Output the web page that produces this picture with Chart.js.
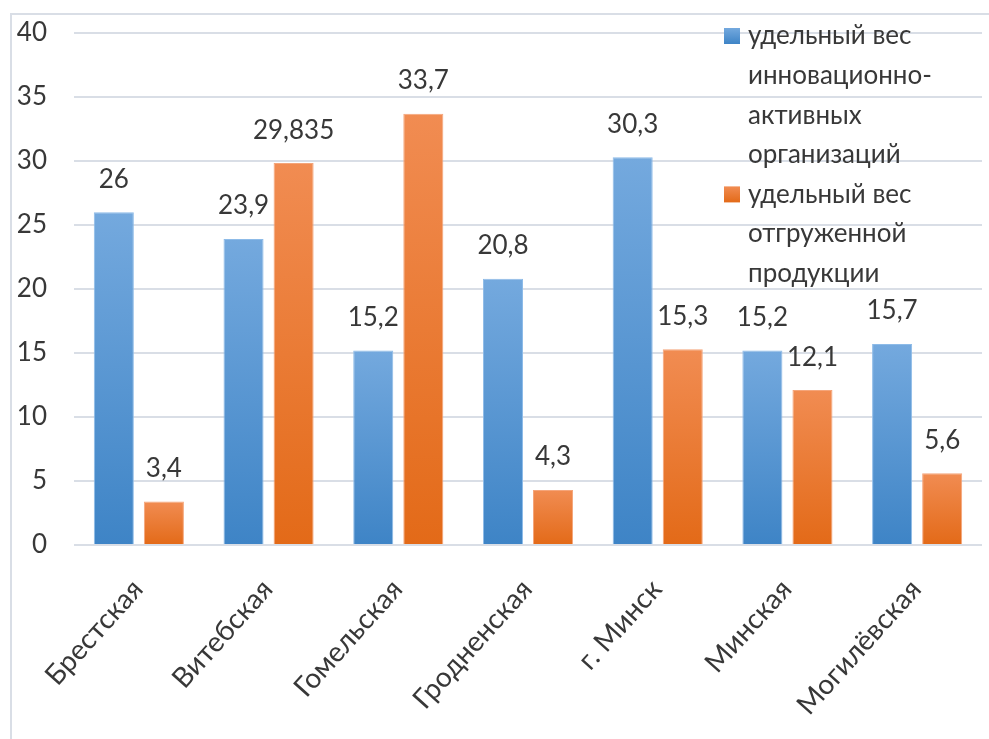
<!DOCTYPE html>
<html><head><meta charset="utf-8">
<script src="https://cdn.jsdelivr.net/npm/chart.js@4/dist/chart.umd.min.js"></script>
<style>html,body{margin:0;padding:0;background:#fff;overflow:hidden}#wrap{width:989px;height:739px;position:relative}</style>
</head><body><div id="wrap"><canvas id="c" width="989" height="739"></canvas></div>
<script>
const categories = ['Брестская', 'Витебская', 'Гомельская', 'Гродненская', 'г. Минск', 'Минская', 'Могилёвская'];
const innovationShare = [26, 23.9, 15.2, 20.8, 30.3, 15.2, 15.7];
const shippedShare = [3.4, 29.835, 33.7, 4.3, 15.3, 12.1, 5.6];
const innovationLabel = ['удельный вес', 'инновационно-', 'активных', 'организаций'];
const shippedLabel = ['удельный вес', 'отгруженной', 'продукции'];
const yMin = 0, yMax = 40, yStep = 5;

const FONT = 'Lato';
const TXT = '#383838';
const BLUE = ['#74a9de', '#3e84c6'];
const ORANGE = ['#f18c52', '#e36a18'];

function gradFill(colors) {
  return (c) => {
    const chart = c.chart, y = chart.scales && chart.scales.y;
    if (!y || c.type !== 'data' || !isFinite(y.getPixelForValue(0))) return colors[1];
    const top = y.getPixelForValue(c.raw), base = y.getPixelForValue(0);
    if (!isFinite(top) || base - top < 1) return colors[1];
    const g = chart.ctx.createLinearGradient(0, top, 0, base);
    g.addColorStop(0, colors[0]);
    g.addColorStop(1, colors[1]);
    return g;
  };
}

const frame = {
  id: 'frame',
  beforeDraw(chart) {
    const ctx = chart.ctx;
    ctx.save();
    ctx.fillStyle = '#fff';
    ctx.fillRect(0, 0, chart.width, chart.height);
    ctx.strokeStyle = '#d9dee6';
    ctx.lineWidth = 2;
    ctx.strokeRect(11, 14, chart.width + 20, chart.height + 20);
    ctx.restore();
  }
};

const valueLabels = {
  id: 'valueLabels',
  afterDatasetsDraw(chart) {
    const ctx = chart.ctx;
    ctx.save();
    ctx.font = '26px ' + FONT;
    ctx.fillStyle = TXT;
    ctx.textAlign = 'center';
    ctx.textBaseline = 'middle';
    chart.data.datasets.forEach((ds, i) => {
      chart.getDatasetMeta(i).data.forEach((bar, j) => {
        ctx.fillText(String(ds.data[j]).replace('.', ','), bar.x, bar.y - 33);
      });
    });
    ctx.restore();
  }
};

const sideLegend = {
  id: 'sideLegend',
  afterDraw(chart) {
    const ctx = chart.ctx;
    ctx.save();
    ctx.font = '26px ' + FONT;
    ctx.fillStyle = TXT;
    ctx.textAlign = 'left';
    ctx.textBaseline = 'middle';
    let y = 36;
    const lh = 39.6;
    chart.data.datasets.forEach((ds) => {
      const g = ctx.createLinearGradient(0, y - 8, 0, y + 8);
      g.addColorStop(0, ds.legendColors[0]);
      g.addColorStop(1, ds.legendColors[1]);
      ctx.fillStyle = g;
      ctx.fillRect(724, y - 8, 16, 16);
      ctx.fillStyle = TXT;
      ds.label.forEach((line) => {
        ctx.fillText(line, 748, y);
        y += lh;
      });
    });
    ctx.restore();
  }
};

new Chart(document.getElementById('c'), {
  type: 'bar',
  data: {
    labels: categories,
    datasets: [
      { label: innovationLabel, data: innovationShare, backgroundColor: gradFill(BLUE),
        borderColor: '#8dbbe8', borderWidth: 1, legendColors: BLUE,
        barPercentage: 0.8, categoryPercentage: 0.772 },
      { label: shippedLabel, data: shippedShare, backgroundColor: gradFill(ORANGE),
        borderColor: '#f5a57a', borderWidth: 1, legendColors: ORANGE,
        barPercentage: 0.8, categoryPercentage: 0.772 }
    ]
  },
  options: {
    responsive: false,
    animation: false,
    devicePixelRatio: 1,
    layout: { padding: { top: 33, right: 7, left: 0, bottom: 0 } },
    plugins: { legend: { display: false }, tooltip: { enabled: false } },
    scales: {
      x: {
        grid: { display: false },
        border: { display: false },
        ticks: { color: TXT, font: { family: FONT, size: 28 }, maxRotation: 48, minRotation: 48, padding: 20, labelOffset: -1 },
        afterFit: (s) => { s.height = 194; s.paddingLeft = 0; s.paddingRight = 0; }
      },
      y: {
        min: yMin, max: yMax,
        grid: { color: '#d9dee6', lineWidth: 2, drawTicks: false },
        border: { display: false },
        ticks: { stepSize: yStep, color: TXT, font: { family: FONT, size: 26 }, padding: 27 },
        afterFit: (s) => { s.width = 74; s.paddingTop = 0; s.paddingBottom = 0; }
      }
    }
  },
  plugins: [frame, valueLabels, sideLegend]
});
</script></body></html>
